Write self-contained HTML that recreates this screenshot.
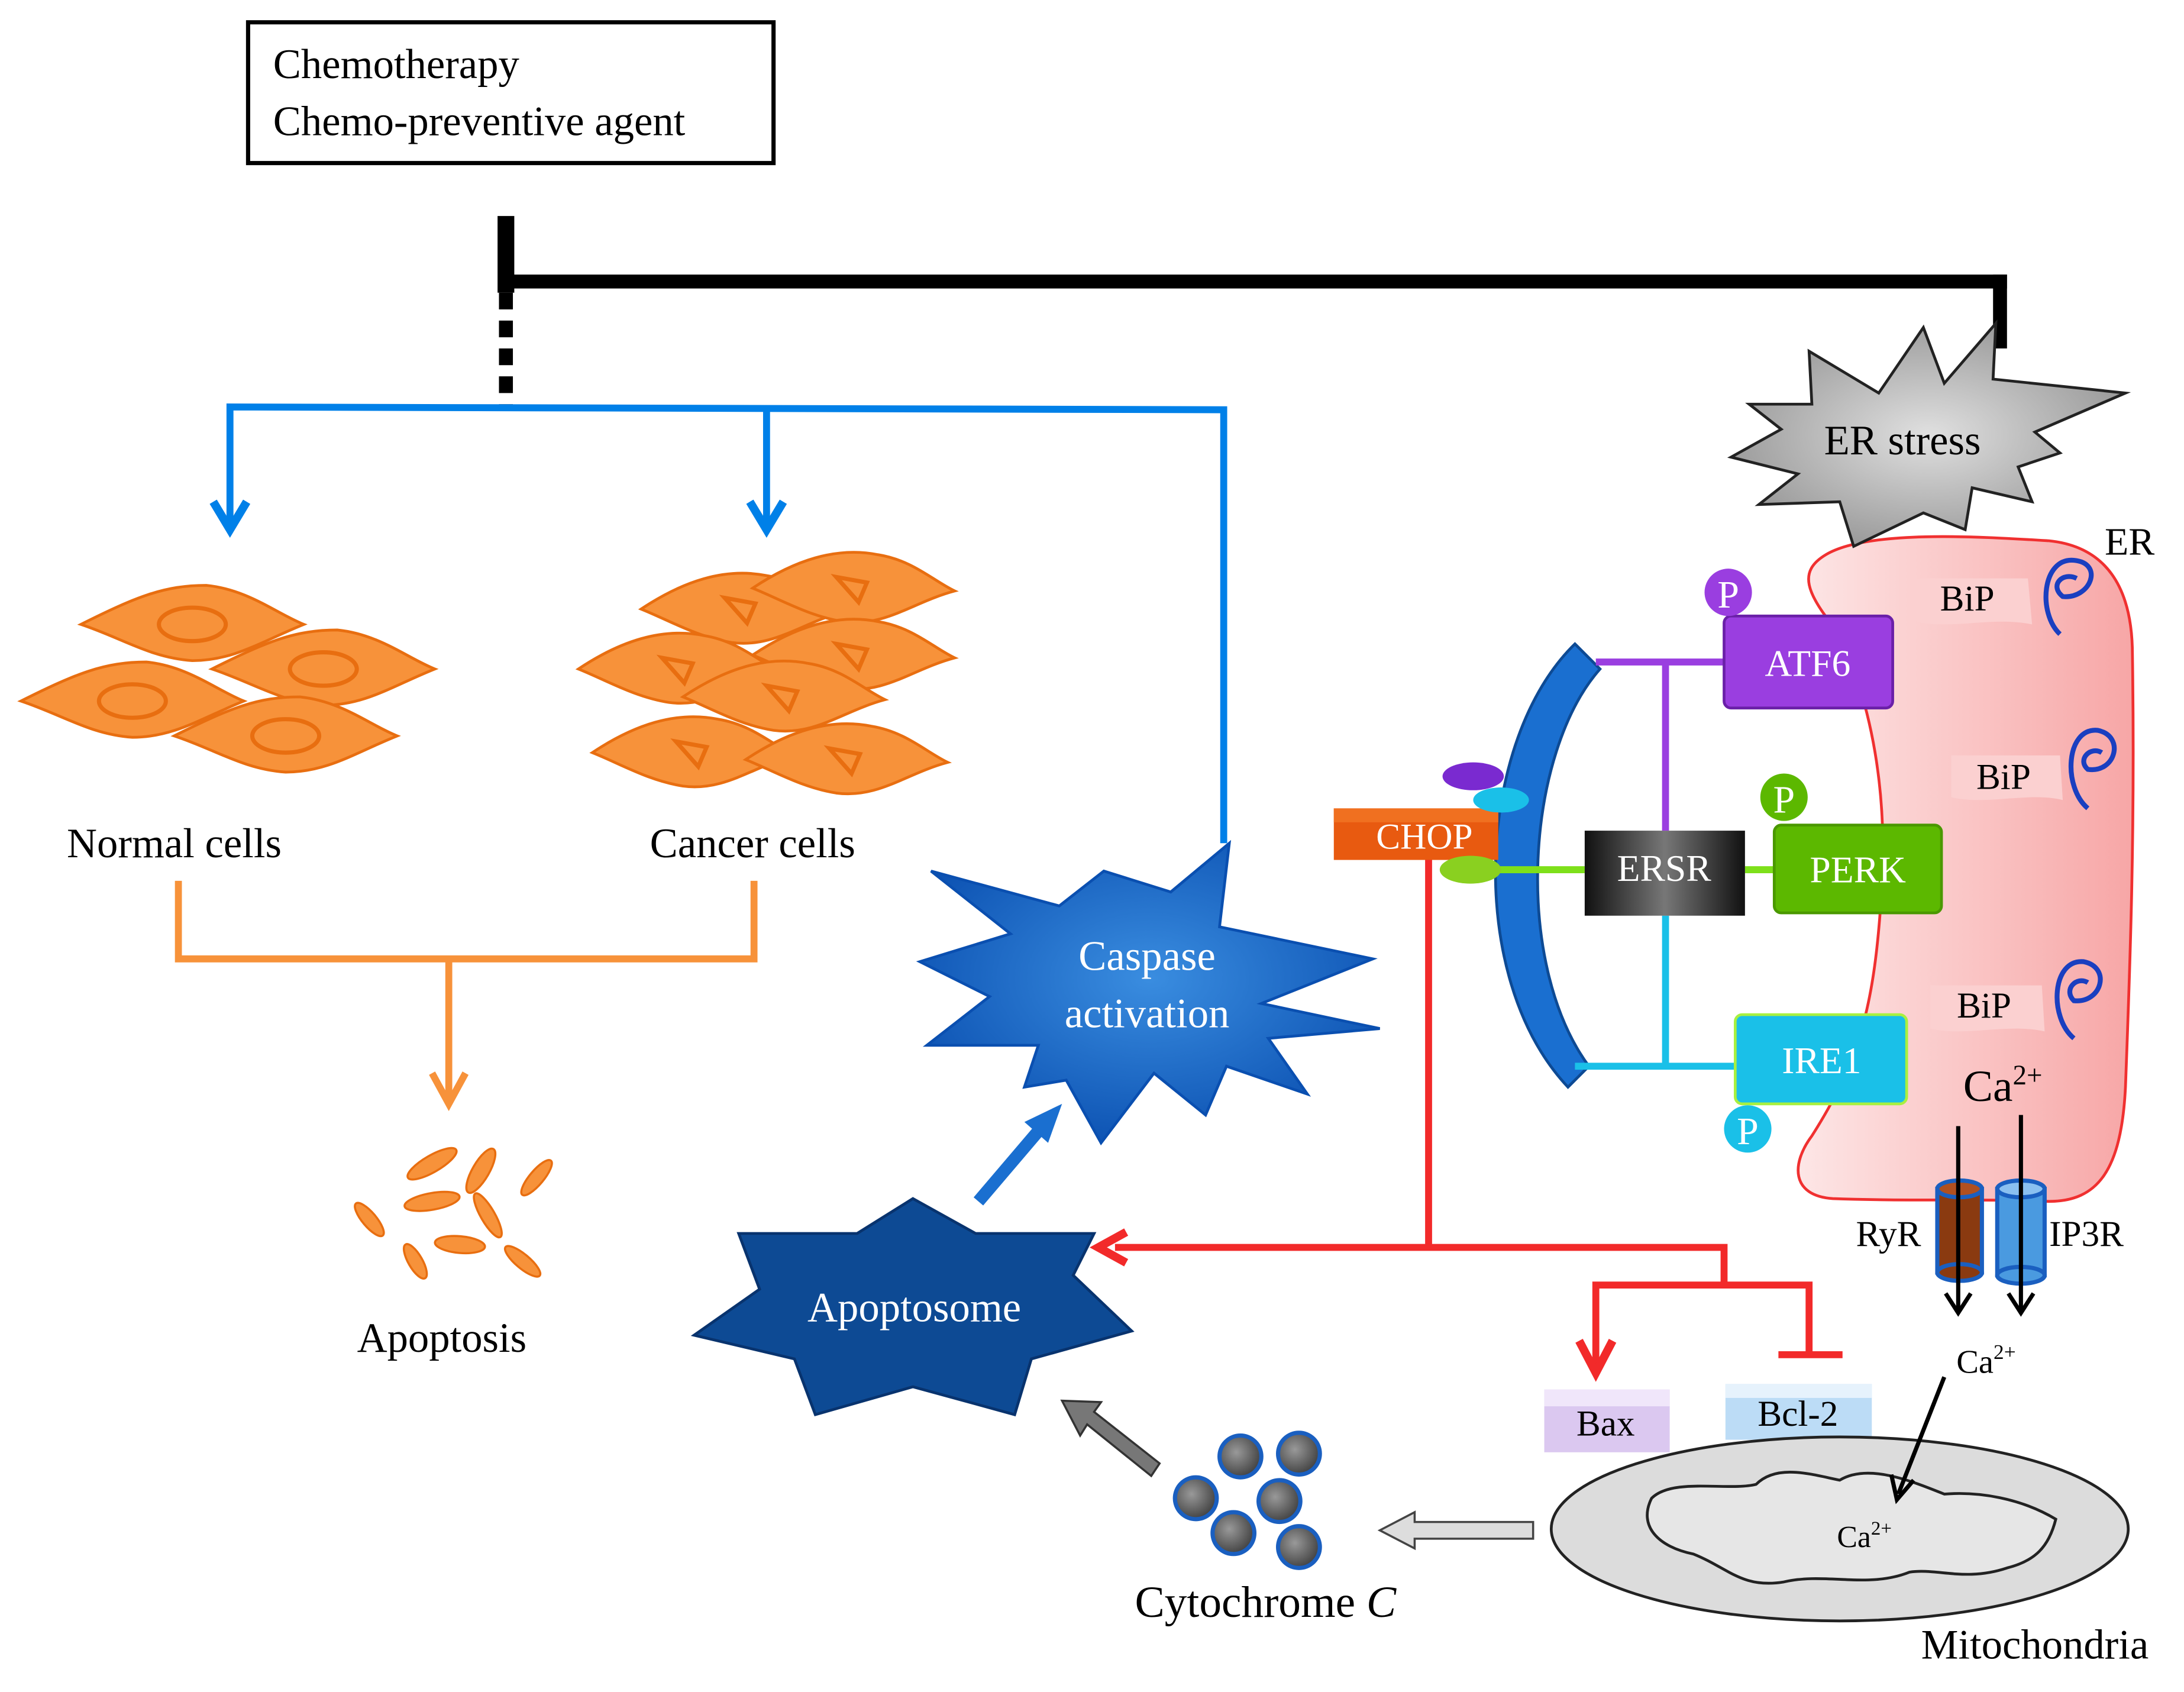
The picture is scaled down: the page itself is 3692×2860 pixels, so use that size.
<!DOCTYPE html>
<html><head><meta charset="utf-8"><style>
html,body{margin:0;padding:0;background:#fff}
svg{display:block}
text{font-family:"Liberation Serif",serif}
</style></head><body>
<svg width="3692" height="2860" viewBox="0 0 1567 1214" preserveAspectRatio="none" xmlns="http://www.w3.org/2000/svg">
<defs>
<radialGradient id="casp" cx="50%" cy="45%" r="60%"><stop offset="0" stop-color="#3a8de0"/><stop offset="1" stop-color="#0a4fb0"/></radialGradient>
<radialGradient id="ers" cx="50%" cy="50%" r="60%"><stop offset="0" stop-color="#e0e0e0"/><stop offset="1" stop-color="#909090"/></radialGradient>
<linearGradient id="er" x1="0" x2="1"><stop offset="0" stop-color="#fde6e6"/><stop offset="1" stop-color="#f7a6a6"/></linearGradient>
<linearGradient id="ersr" x1="0" x2="1"><stop offset="0" stop-color="#111"/><stop offset="0.5" stop-color="#777"/><stop offset="1" stop-color="#111"/></linearGradient>
<radialGradient id="ball" cx="40%" cy="40%" r="60%"><stop offset="0" stop-color="#999"/><stop offset="1" stop-color="#444"/></radialGradient>
<g id="cell"><path d="M-80,0 C-40,-20 -20,-28 10,-28 C40,-25 60,-8 80,0 C50,12 30,26 0,26 C-30,24 -50,10 -80,0Z" fill="#f7923a" stroke="#e86e10" stroke-width="2"/><ellipse cx="0" cy="0" rx="24" ry="12" fill="none" stroke="#e86e10" stroke-width="3"/></g>
<g id="ccell"><path d="M-70,0 C-40,-20 -10,-30 20,-24 C45,-20 60,-5 75,2 C45,10 25,28 -5,24 C-30,20 -50,8 -70,0Z" fill="#f7923a" stroke="#e86e10" stroke-width="2"/><path d="M-10,-8 L12,-4 L6,10 Z" fill="none" stroke="#e86e10" stroke-width="3"/></g>
</defs>

<rect x="178" y="16" width="377" height="101" fill="#fff" stroke="#000" stroke-width="3"/>
<text x="196" y="56" font-size="30">Chemotherapy</text>
<text x="196" y="97" font-size="30">Chemo-preventive  agent</text>

<line x1="363" y1="155" x2="363" y2="210" stroke="#000" stroke-width="12"/>
<line x1="363" y1="210" x2="363" y2="292" stroke="#000" stroke-width="10" stroke-dasharray="12,8"/>
<line x1="358" y1="202" x2="1440" y2="202" stroke="#000" stroke-width="10"/>
<line x1="1435" y1="197" x2="1435" y2="250" stroke="#000" stroke-width="10"/>

<g stroke="#0080e8" stroke-width="5" fill="none">
<polyline points="165,378 165,292 878,294 878,605"/>
<line x1="550" y1="294" x2="550" y2="378"/>
<polyline points="153,360 165,380 177,360" stroke-width="6"/>
<polyline points="538,360 550,380 562,360" stroke-width="6"/>
</g>

<use href="#cell" x="138" y="448"/>
<use href="#cell" x="232" y="480"/>
<use href="#cell" x="95" y="503"/>
<use href="#cell" x="205" y="528"/>
<use href="#ccell" x="530" y="437"/>
<use href="#ccell" x="610" y="422"/>
<use href="#ccell" x="485" y="480"/>
<use href="#ccell" x="610" y="470"/>
<use href="#ccell" x="560" y="500"/>
<use href="#ccell" x="495" y="540"/>
<use href="#ccell" x="605" y="545"/>

<text x="125" y="615" font-size="30" text-anchor="middle">Normal cells</text>
<text x="540" y="615" font-size="30" text-anchor="middle">Cancer cells</text>

<g stroke="#f7923a" stroke-width="5" fill="none">
<polyline points="128,632 128,688 541,688 541,632"/>
<line x1="322" y1="688" x2="322" y2="790"/>
<polyline points="310,770 322,792 334,770"/>
</g>
<g fill="#f7923a" stroke="#e86e10" stroke-width="1.5">
<ellipse cx="310" cy="835" rx="20" ry="6" transform="rotate(-30 310 835)"/>
<ellipse cx="345" cy="840" rx="18" ry="6" transform="rotate(-60 345 840)"/>
<ellipse cx="385" cy="845" rx="16" ry="5" transform="rotate(-50 385 845)"/>
<ellipse cx="265" cy="875" rx="15" ry="5" transform="rotate(50 265 875)"/>
<ellipse cx="310" cy="862" rx="20" ry="6" transform="rotate(-10 310 862)"/>
<ellipse cx="350" cy="872" rx="18" ry="5" transform="rotate(60 350 872)"/>
<ellipse cx="330" cy="893" rx="18" ry="6" transform="rotate(5 330 893)"/>
<ellipse cx="298" cy="905" rx="14" ry="5" transform="rotate(60 298 905)"/>
<ellipse cx="375" cy="905" rx="16" ry="5" transform="rotate(40 375 905)"/>
</g>
<text x="317" y="970" font-size="30" text-anchor="middle">Apoptosis</text>

<polygon points="668,625 760,650 792,625 840,640 882,605 875,665 985,688 905,720 990,738 910,745 938,785 880,765 865,800 828,770 790,820 765,775 735,780 745,750 665,750 710,715 660,690 725,670" fill="url(#casp)" stroke="#0a4fb0" stroke-width="2"/>
<text x="823" y="696" font-size="30" fill="#fff" text-anchor="middle">Caspase</text>
<text x="823" y="737" font-size="30" fill="#fff" text-anchor="middle">activation</text>

<polygon points="530,885 615,885 655,860 700,885 785,885 770,915 812,955 740,975 728,1015 655,995 585,1015 570,975 498,958 545,925" fill="#0d4a94" stroke="#08336e" stroke-width="2"/>
<text x="656" y="948" font-size="30" fill="#fff" text-anchor="middle">Apoptosome</text>

<line x1="702" y1="862" x2="748" y2="808" stroke="#1a6fd0" stroke-width="9"/>
<polygon points="762,792 735,805 752,820" fill="#1a6fd0"/>

<g stroke="#f22a2a" stroke-width="5" fill="none">
<line x1="1025" y1="615" x2="1025" y2="893"/>
<polyline points="800,895 1237,895 1237,922"/>
<polyline points="1145,985 1145,922 1298,922 1298,972"/>
<line x1="1276" y1="972" x2="1322" y2="972"/>
<polyline points="1133,962 1145,985 1157,962" stroke-width="6"/>
<polyline points="808,884 788,895 808,906" stroke-width="6"/>
</g>

<rect x="1108" y="997" width="90" height="45" fill="#dbc8f0"/>
<rect x="1108" y="997" width="90" height="12" fill="#f0e6fa"/>
<text x="1152" y="1030" font-size="26" text-anchor="middle">Bax</text>
<rect x="1238" y="993" width="105" height="40" fill="#bcdcf6"/>
<rect x="1238" y="993" width="105" height="10" fill="#e6f2fc"/>
<text x="1290" y="1023" font-size="26" text-anchor="middle">Bcl-2</text>

<ellipse cx="1320" cy="1097" rx="207" ry="66" fill="#dcdcdc" stroke="#222" stroke-width="2"/>
<path d="M1185,1075 C1200,1060 1240,1070 1260,1065 C1275,1050 1300,1058 1320,1062 C1340,1050 1370,1062 1395,1072 C1420,1070 1450,1075 1475,1090 C1470,1110 1460,1120 1440,1125 C1410,1135 1390,1125 1370,1128 C1340,1140 1310,1128 1280,1135 C1250,1140 1240,1125 1215,1115 C1190,1110 1175,1095 1185,1075Z" fill="#e6e6e6" stroke="#222" stroke-width="2"/>
<text x="1318" y="1110" font-size="22">Ca<tspan font-size="14" dy="-9">2+</tspan></text>
<text x="1460" y="1190" font-size="30" text-anchor="middle">Mitochondria</text>

<polygon points="1100,1092 1015,1092 1015,1085 990,1098 1015,1111 1015,1104 1100,1104" fill="#ddd" stroke="#444" stroke-width="1.5"/>
<g fill="url(#ball)" stroke="#1a5fc0" stroke-width="3">
<circle cx="890" cy="1045" r="15"/><circle cx="932" cy="1043" r="15"/>
<circle cx="858" cy="1075" r="15"/><circle cx="918" cy="1077" r="15"/>
<circle cx="885" cy="1100" r="15"/><circle cx="932" cy="1110" r="15"/>
</g>
<text x="908" y="1160" font-size="32" text-anchor="middle">Cytochrome <tspan font-style="italic">C</tspan></text>
<polygon points="832,1050 785,1013 790,1006 762,1005 775,1030 780,1022 826,1059" fill="#777" stroke="#333" stroke-width="1.5"/>

<path d="M1310,398 C1340,380 1420,385 1470,388 C1510,392 1530,420 1530,470 C1532,600 1528,700 1525,780 C1522,840 1505,862 1470,862 C1420,860 1370,862 1315,860 C1285,858 1285,835 1300,815 C1335,760 1345,720 1350,640 C1355,560 1340,500 1320,455 C1295,425 1290,410 1310,398Z" fill="url(#er)" stroke="#f03030" stroke-width="2"/>
<text x="1528" y="398" font-size="28" text-anchor="middle">ER</text>

<polygon points="1255,290 1300,290 1298,252 1348,282 1380,235 1395,275 1432,232 1430,272 1525,282 1460,310 1478,325 1448,335 1458,360 1415,350 1410,380 1380,368 1330,392 1320,360 1262,362 1290,340 1242,328 1278,308" fill="url(#ers)" stroke="#222" stroke-width="2"/>
<text x="1365" y="326" font-size="30" text-anchor="middle">ER stress</text>

<g font-size="26">
<path d="M1375,415 L1455,415 L1458,448 C1430,442 1400,452 1375,446Z" fill="#fbd0d0"/>
<text x="1392" y="438">BiP</text>
<path d="M1400,542 L1478,542 L1480,574 C1455,568 1425,578 1400,572Z" fill="#fbd0d0"/>
<text x="1418" y="566">BiP</text>
<path d="M1385,707 L1465,707 L1467,740 C1440,734 1410,744 1385,738Z" fill="#fbd0d0"/>
<text x="1404" y="730">BiP</text>
</g>
<g fill="none" stroke="#1a3fc0" stroke-width="3.5">
<path d="M1478,455 C1462,440 1465,400 1488,402 C1510,404 1500,430 1480,428 C1470,420 1480,410 1490,415"/>
<path d="M1498,580 C1480,565 1482,522 1505,524 C1525,528 1518,555 1498,552 C1490,545 1500,535 1508,540"/>
<path d="M1488,745 C1470,730 1472,688 1495,690 C1515,694 1508,720 1488,718 C1480,710 1490,700 1498,705"/>
</g>

<path d="M1130,462 C1060,530 1050,700 1125,780 L1140,765 C1085,690 1095,540 1148,480Z" fill="#1a6fd0" stroke="#0d4a94" stroke-width="2"/>

<line x1="1145" y1="475" x2="1237" y2="475" stroke="#9a3ee0" stroke-width="5"/>
<line x1="1195" y1="475" x2="1195" y2="596" stroke="#9a3ee0" stroke-width="5"/>
<line x1="1075" y1="624" x2="1137" y2="624" stroke="#7ee01a" stroke-width="5"/>
<line x1="1252" y1="624" x2="1273" y2="624" stroke="#7ee01a" stroke-width="5"/>
<line x1="1195" y1="657" x2="1195" y2="765" stroke="#1ac0e8" stroke-width="5"/>
<line x1="1130" y1="765" x2="1245" y2="765" stroke="#1ac0e8" stroke-width="5"/>

<rect x="1237" y="442" width="121" height="66" rx="5" fill="#9a3ee0" stroke="#6a20a8" stroke-width="2"/>
<text x="1297" y="485" font-size="27" fill="#fff" text-anchor="middle">ATF6</text>
<circle cx="1240" cy="425" r="17" fill="#9a3ee0"/>
<text x="1240" y="436" font-size="28" fill="#fff" text-anchor="middle">P</text>
<rect x="1273" y="592" width="120" height="63" rx="5" fill="#5cb800" stroke="#4a9800" stroke-width="2"/>
<text x="1333" y="633" font-size="27" fill="#fff" text-anchor="middle">PERK</text>
<circle cx="1280" cy="572" r="17" fill="#5cb800"/>
<text x="1280" y="583" font-size="28" fill="#fff" text-anchor="middle">P</text>
<rect x="1137" y="596" width="115" height="61" fill="url(#ersr)"/>
<text x="1194" y="632" font-size="27" fill="#fff" text-anchor="middle">ERSR</text>
<rect x="1245" y="728" width="123" height="64" rx="5" fill="#1ac0e8" stroke="#a8f040" stroke-width="2"/>
<text x="1307" y="770" font-size="27" fill="#fff" text-anchor="middle">IRE1</text>
<circle cx="1254" cy="810" r="17" fill="#1ac0e8"/>
<text x="1254" y="821" font-size="28" fill="#fff" text-anchor="middle">P</text>

<rect x="957" y="580" width="118" height="37" fill="#e85a10"/>
<rect x="957" y="580" width="118" height="10" fill="#f07020"/>
<text x="1022" y="609" font-size="26" fill="#fff" text-anchor="middle">CHOP</text>
<ellipse cx="1057" cy="557" rx="22" ry="10" fill="#7a2ad0"/>
<ellipse cx="1077" cy="574" rx="20" ry="9" fill="#1ac0e8"/>
<ellipse cx="1055" cy="624" rx="22" ry="10" fill="#8ad020"/>

<text x="1437" y="790" font-size="32" text-anchor="middle">Ca<tspan font-size="20" dy="-12">2+</tspan></text>
<rect x="1390" y="853" width="32" height="60" fill="#8a3a10" stroke="#1a5fc0" stroke-width="3"/>
<ellipse cx="1406" cy="853" rx="16" ry="6" fill="#b05020" stroke="#1a5fc0" stroke-width="3"/>
<ellipse cx="1406" cy="913" rx="16" ry="6" fill="#8a3a10" stroke="#1a5fc0" stroke-width="3"/>
<rect x="1433" y="853" width="34" height="62" fill="#4a9ae0" stroke="#1a5fc0" stroke-width="3"/>
<ellipse cx="1450" cy="853" rx="17" ry="6" fill="#8ac0f0" stroke="#1a5fc0" stroke-width="3"/>
<ellipse cx="1450" cy="915" rx="17" ry="6" fill="#4a9ae0" stroke="#1a5fc0" stroke-width="3"/>
<line x1="1405" y1="808" x2="1405" y2="940" stroke="#000" stroke-width="3"/>
<polyline points="1396,928 1405,942 1414,928" fill="none" stroke="#000" stroke-width="3"/>
<line x1="1450" y1="800" x2="1450" y2="940" stroke="#000" stroke-width="3"/>
<polyline points="1441,928 1450,942 1459,928" fill="none" stroke="#000" stroke-width="3"/>
<text x="1355" y="894" font-size="26" text-anchor="middle">RyR</text>
<text x="1497" y="894" font-size="26" text-anchor="middle">IP3R</text>
<text x="1425" y="985" font-size="24" text-anchor="middle">Ca<tspan font-size="15" dy="-10">2+</tspan></text>
<line x1="1395" y1="988" x2="1362" y2="1072" stroke="#000" stroke-width="3"/>
<polyline points="1357,1058 1361,1076 1373,1062" fill="none" stroke="#000" stroke-width="3"/>
</svg>
</body></html>
